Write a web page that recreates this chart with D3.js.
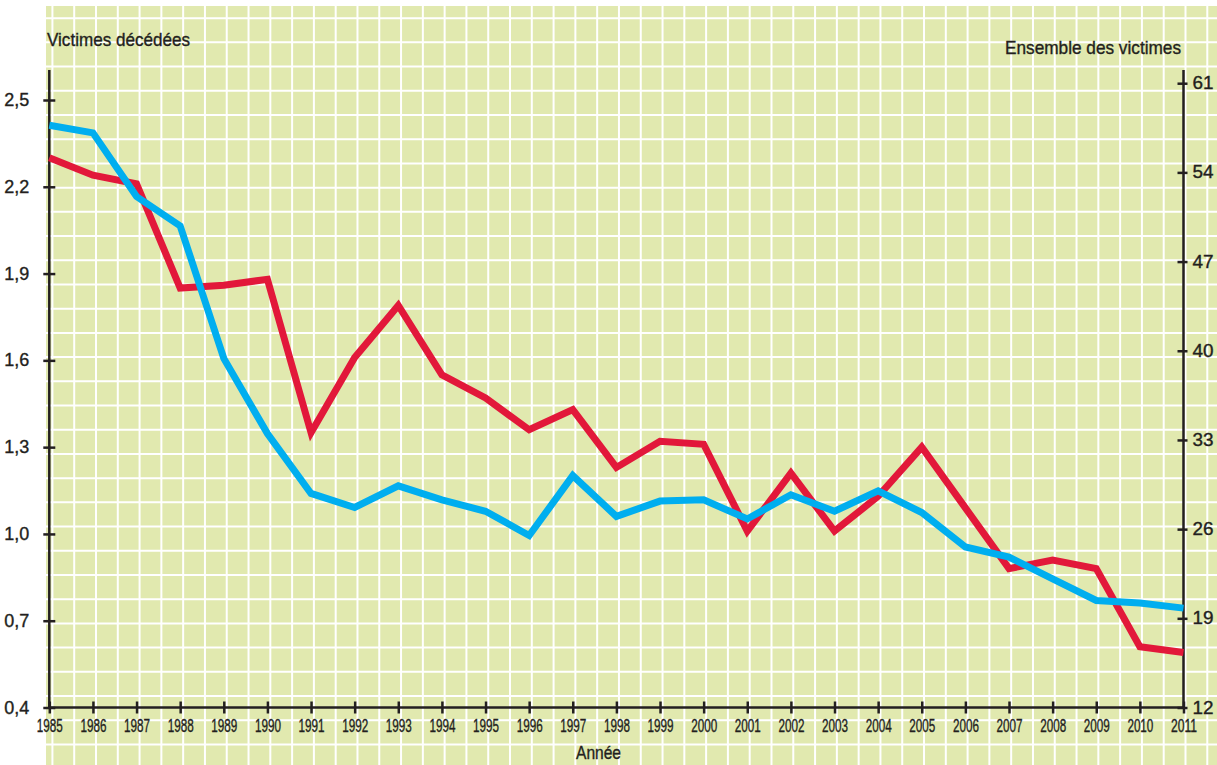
<!DOCTYPE html>
<html>
<head>
<meta charset="utf-8">
<script src="https://cdn.jsdelivr.net/npm/d3@7"></script>
<style>
  body { margin: 0; background: #fff; }
  svg { display: block; }
  text { font-family: "Liberation Sans", Arial, sans-serif; fill: #231f20; stroke: #231f20; stroke-width: 0.35px; }
</style>
</head>
<body>
<svg width="1217" height="765"></svg>
<script>
const years = d3.range(1985, 2012);
const deaths = [2.30, 2.24, 2.21, 1.85, 1.86, 1.88, 1.35, 1.61, 1.79, 1.55, 1.47, 1.36, 1.43, 1.23, 1.32, 1.31,
  1.01, 1.21, 1.01, 1.13, 1.30, 1.09, 0.88, 0.91, 0.88, 0.61, 0.59];
const allVictims = [57.7, 57.1, 52.1, 49.8, 39.4, 33.5, 28.8, 27.7, 29.4, 28.3, 27.4, 25.5, 30.2, 27.0, 28.2, 28.3,
  26.8, 28.7, 27.4, 29.0, 27.3, 24.6, 23.8, 22.1, 20.4, 20.2, 19.8];
const leftTicks = [0.4, 0.7, 1.0, 1.3, 1.6, 1.9, 2.2, 2.5];
const rightTicks = [12, 19, 26, 33, 40, 47, 54, 61];

const svg = d3.select("svg");
const width = 1217;
const height = 765;
const ink = "#231f20";

// grid paper background
svg.append("rect").attr("x", 46).attr("y", 6).attr("width", width - 46).attr("height", height - 6).attr("fill", "#e1e9af");
const grid = svg.append("g").attr("stroke", "#fff").attr("stroke-width", 2);
for (let gx = 96 - 2 * 21.79; gx < width; gx += 21.79) {
  grid.append("line").attr("x1", gx).attr("x2", gx).attr("y1", 6).attr("y2", height);
}
for (let gy = 115 - 4 * 24.21; gy < height; gy += 24.21) {
  grid.append("line").attr("x1", 46).attr("x2", width).attr("y1", gy).attr("y2", gy);
}

const x = d3.scaleLinear().domain([1985, 2011]).range([49.3, 1183.5]);
const yLeft = d3.scaleLinear().domain([0.4, 2.5]).range([707.5, 100]);
const yRight = d3.scaleLinear().domain([12, 61]).range([707.5, 83.2]);

function styleAxis(g) {
  g.select(".domain").remove();
  g.selectAll("line").attr("stroke", ink).attr("stroke-width", 2.5);
}

// axis lines
svg.append("line").attr("x1", x(1985)).attr("x2", x(1985)).attr("y1", 70).attr("y2", 708.7)
  .attr("stroke", ink).attr("stroke-width", 2.5);
svg.append("line").attr("x1", x(2011)).attr("x2", x(2011)).attr("y1", 70).attr("y2", 708.7)
  .attr("stroke", ink).attr("stroke-width", 2.5);
svg.append("line").attr("x1", x(1985) - 1.2).attr("x2", x(2011) + 1.2).attr("y1", 707.5).attr("y2", 707.5)
  .attr("stroke", ink).attr("stroke-width", 2.5);

const xAxis = svg.append("g")
  .attr("transform", "translate(0,707.5)")
  .call(d3.axisBottom(x).tickValues(years).tickFormat(d3.format("d")).tickSize(6))
  .call(styleAxis);
xAxis.selectAll("line").attr("y1", -6).attr("y2", 6);
xAxis.selectAll("text").attr("font-size", 17.5).attr("y", 24.5).attr("dy", null)
  .attr("textLength", 26).attr("lengthAdjust", "spacingAndGlyphs");

const leftAxis = svg.append("g")
  .attr("transform", `translate(${x(1985)},0)`)
  .call(d3.axisLeft(yLeft).tickValues(leftTicks).tickFormat(d => d3.format(".1f")(d).replace(".", ",")).tickSize(6).tickPadding(14))
  .call(styleAxis);
leftAxis.selectAll("line").attr("x1", -6).attr("x2", 6);
leftAxis.selectAll("text").attr("font-size", 17.5).attr("textLength", 25).attr("lengthAdjust", "spacingAndGlyphs");

const rightAxis = svg.append("g")
  .attr("transform", `translate(${x(2011)},0)`)
  .call(d3.axisRight(yRight).tickValues(rightTicks).tickSize(4).tickPadding(5))
  .call(styleAxis);
rightAxis.selectAll("line").attr("x1", -6).attr("x2", 4);
rightAxis.selectAll("text").attr("font-size", 17.5).attr("textLength", 21).attr("lengthAdjust", "spacingAndGlyphs");

// series
const lineLeft = d3.line().x((d, i) => x(years[i])).y(d => yLeft(d));
const lineRight = d3.line().x((d, i) => x(years[i])).y(d => yRight(d));

svg.append("path").datum(deaths).attr("d", lineLeft)
  .attr("fill", "none").attr("stroke", "#e2183a").attr("stroke-width", 7).attr("stroke-linejoin", "miter");
svg.append("path").datum(allVictims).attr("d", lineRight)
  .attr("fill", "none").attr("stroke", "#00aeef").attr("stroke-width", 7).attr("stroke-linejoin", "miter");

// titles
svg.append("text").attr("x", 47).attr("y", 46).attr("font-size", 18.5)
  .attr("textLength", 143).attr("lengthAdjust", "spacingAndGlyphs").text("Victimes décédées");
svg.append("text").attr("x", 1005).attr("y", 54).attr("font-size", 18.5)
  .attr("textLength", 176).attr("lengthAdjust", "spacingAndGlyphs").text("Ensemble des victimes");
svg.append("text").attr("x", 576).attr("y", 759).attr("font-size", 18.5)
  .attr("textLength", 45).attr("lengthAdjust", "spacingAndGlyphs").text("Année");
</script>
</body>
</html>
